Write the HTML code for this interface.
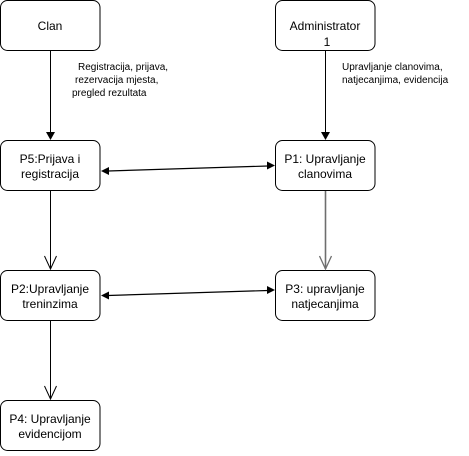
<!DOCTYPE html>
<html><head><style>body{margin:0;background:#fff}</style></head><body>
<svg width="469" height="451" xmlns="http://www.w3.org/2000/svg" font-family="Liberation Sans, sans-serif" font-size="12">
<g fill="#fff" stroke="#000" stroke-width="1">
<rect x="0.5" y="0.5" width="99.5" height="50" rx="7"/>
<rect x="275.5" y="0.5" width="99.5" height="50" rx="7"/>
<rect x="0.5" y="140.5" width="99.5" height="50" rx="7"/>
<rect x="275.5" y="140.5" width="99.5" height="50" rx="7"/>
<rect x="0.5" y="270.5" width="99.5" height="50" rx="7"/>
<rect x="275.5" y="270.5" width="99.5" height="50" rx="7"/>
<rect x="0.5" y="400.5" width="99.5" height="50" rx="7"/>
</g>
<g stroke="#000" fill="none">
<line x1="50.5" y1="51" x2="50.5" y2="132"/>
<line x1="325.5" y1="51" x2="325.5" y2="132"/>
<line x1="50.5" y1="191" x2="50.5" y2="269"/>
<polyline points="44.5,256 50.5,269 56.5,256"/>
<line x1="325.5" y1="191" x2="325.5" y2="269" stroke="#6e6e6e" stroke-width="1.6"/>
<polyline points="319.5,256 325.5,269 331.5,256" stroke="#6e6e6e" stroke-width="1.3"/>
<line x1="50.5" y1="321" x2="50.5" y2="399"/>
<polyline points="44.5,386 50.5,399 56.5,386"/>
<line x1="108" y1="171" x2="268" y2="166" stroke-width="1.2"/>
<line x1="108" y1="295.5" x2="268" y2="290.5" stroke-width="1.2"/>
</g>
<g fill="#000">
<polygon points="46,132 55,132 50.5,140"/>
<polygon points="321,132 330,132 325.5,140"/>
<polygon points="101,171 109,167 109,175"/>
<polygon points="275,165.5 267,161.5 267,169.5"/>
<polygon points="101,295.5 109,291.5 109,299.5"/>
<polygon points="275,290 267,286 267,294"/>
</g>
<g text-anchor="middle">
<text x="50" y="30">Clan</text>
<text x="325" y="30">Administrator</text>
<text x="327" y="46">1</text>
<text x="50" y="163">P5:Prijava i</text>
<text x="50" y="178">registracija</text>
<text x="325" y="163">P1: Upravljanje</text>
<text x="325" y="178">clanovima</text>
<text x="50" y="293">P2:Upravljanje</text>
<text x="50" y="308">treninzima</text>
<text x="325" y="293">P3: upravljanje</text>
<text x="325" y="308">natjecanjima</text>
<text x="50" y="423">P4: Upravljanje</text>
<text x="50" y="438">evidencijom</text>
</g>
<g font-size="10">
<text x="78" y="70">Registracija, prijava,</text>
<text x="75" y="83">rezervacija mjesta,</text>
<text x="72" y="96">pregled rezultata</text>
<text x="342" y="70">Upravljanje clanovima,</text>
<text x="342" y="83">natjecanjima, evidencija</text>
</g>
</svg>
</body></html>
